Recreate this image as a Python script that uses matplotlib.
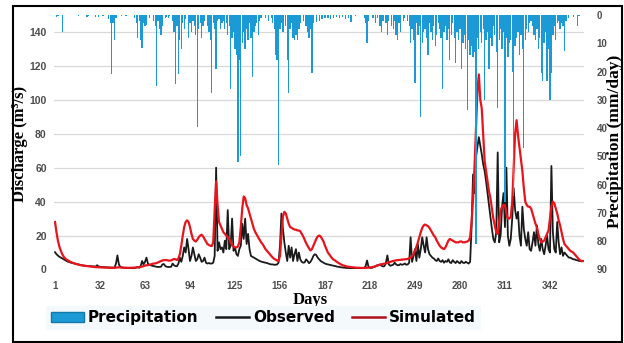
import matplotlib.pyplot as plt
import numpy as np
from matplotlib.lines import Line2D
from matplotlib.patches import Patch, Rectangle

days = np.arange(1, 366)

# Daily discharge (m3/s), observed at the gauge
observed = [
    10.2, 9, 8.2, 7.5, 7, 6.5, 6, 5.5, 5, 4.6,
    4.3, 4, 3.8, 3.6, 3.4, 3.2, 3, 2.8, 2.6, 2.4,
    2.3, 2.2, 2.1, 2.0, 2.0, 1.9, 1.8, 1.8, 1.7, 2.5,
    1.8, 1.6, 1.5, 1.4, 1.4, 1.3, 1.3, 1.2, 1.2, 1.1,
    1.1, 1.0, 3.5, 8.3, 3, 1.5, 1.2, 1.1, 1.0, 1.0,
    0.9, 0.9, 0.8, 0.8, 0.8, 0.9, 1.2, 1.5, 1.0, 2.0,
    5, 3, 4.5, 7, 3.5, 2.8, 2.5, 2.2, 2.0, 1.8,
    1.6, 1.5, 1.5, 1.6, 3, 3.2, 2, 1.6, 1.5, 1.5,
    1.6, 3.5, 2.5, 2.0, 1.9, 3.5, 7, 4.5, 8, 13,
    10, 18, 12, 5, 8, 13, 9, 5, 6, 9,
    7, 4.5, 5, 7, 4, 3.5, 3.8, 3.5, 3.5, 4,
    8, 60, 11, 16, 12, 13, 10, 17, 12, 35,
    12, 14, 30, 11, 13, 9, 8, 12, 14, 27,
    18, 30, 15, 21, 12, 8, 7.5, 7, 6.5, 6,
    5.5, 5, 4.7, 4.4, 4.2, 4, 3.8, 3.5, 3.2, 3,
    3, 2.8, 2.8, 3, 4, 14, 33, 24, 16, 10,
    5, 14, 7, 13, 5, 9, 12, 5, 10, 6,
    4.5, 4, 4.2, 6, 5, 3.7, 4.5, 6, 8, 9,
    8.5, 7, 6, 5, 4.5, 4, 3.5, 3.2, 3, 2.8,
    2.6, 2.4, 2.2, 2, 1.8, 1.6, 1.5, 1.3, 1.2, 1.1,
    1.0, 0.9, 0.9, 0.8, 0.8, 0.7, 0.7, 0.6, 0.6, 0.5,
    0.5, 0.6, 0.7, 0.8, 2, 5.3, 1.5, 1.0, 0.9, 1.2,
    1.5, 2, 2.5, 2.5, 3, 2.2, 1.8, 2, 4, 8.3,
    3, 2.2, 2.5, 2.8, 4, 3, 2.5, 2.6, 3.2, 2.8,
    3, 3.5, 2.8, 3, 4, 19, 4.5, 8, 12, 5,
    15, 7, 12, 19, 14, 10, 19, 12, 9, 8,
    7, 6.5, 5.5, 5, 6.5, 5, 4.5, 5.5, 4, 5,
    4.5, 6, 4.2, 3.8, 5.5, 4.5, 3.8, 5, 4.2, 3.6,
    5, 4, 3.8, 4.5, 4, 3.5, 4.5, 25, 56, 45,
    66, 72, 78, 73, 68, 62, 58, 52, 45, 38,
    31, 24, 18, 16, 22, 69, 16, 20, 37, 45,
    25, 60, 20, 14, 18, 30, 48, 35, 30, 34,
    20, 14, 37, 24, 18, 14, 22, 12, 11, 16,
    22, 14, 26, 15, 11, 18, 12, 9, 14, 20,
    12, 10, 61, 22, 12, 10, 28, 16, 9, 13,
    8, 10, 9, 8, 7, 7, 6.5, 6, 6, 5.5,
    5.5, 5, 5, 4.8, 5,
]

# Daily discharge (m3/s), model output
simulated = [
    28, 22, 17, 13.5, 11, 9, 7.5, 6.5, 5.8, 5.3,
    4.8, 4.4, 4.0, 3.7, 3.4, 3.1, 2.9, 2.7, 2.5, 2.4,
    2.2, 2.1, 2.0, 1.9, 1.8, 1.7, 1.6, 1.5, 1.4, 1.4,
    1.3, 1.3, 1.2, 1.2, 1.1, 1.1, 1.1, 1.0, 1.0, 1.0,
    1.0, 1.0, 1.1, 1.2, 1.3, 1.2, 1.1, 1.1, 1.0, 1.0,
    1.0, 1.0, 1.0, 1.0, 1.1, 1.1, 1.2, 1.3, 1.4, 1.5,
    1.7, 2.0, 2.3, 2.5, 2.6, 2.7, 3.0, 3.3, 3.5, 3.6,
    3.8, 4.2, 4.6, 5.0, 5.3, 5.5, 5.6, 5.5, 5.3, 5.2,
    5.4, 5.8, 6.2, 6.0, 5.6, 6.5, 9, 14, 20, 25,
    28, 29, 28, 25, 21, 18, 17, 16.5, 17.5, 19,
    20, 20.5, 19.5, 18, 16.5, 15, 14.5, 14, 13.8, 16,
    35, 52, 38, 28, 26, 24, 22, 21, 20, 19,
    18, 16, 14.5, 13.5, 13, 13, 13.5, 16, 25, 36,
    43, 42, 38, 36, 33, 30, 27, 24, 22, 20.5,
    19, 17.5, 16, 15, 13.5, 12, 11, 10, 9, 8,
    7, 6.3, 5.8, 5.3, 5, 8, 20, 31, 34, 33,
    30, 27, 25, 24.5, 24, 23.5, 23.5, 23, 23, 22.5,
    21, 19.5, 17.5, 15.5, 14, 12.5, 11.2, 12, 14, 16,
    18, 19.5, 20, 19.5, 18, 16.5, 14, 12, 10, 8.8,
    7.5, 6.5, 5.8, 5.3, 4.6, 4, 3.5, 3, 2.6, 2.3,
    2, 1.8, 1.6, 1.5, 1.4, 1.3, 1.2, 1.1, 1.0, 1.0,
    1.0, 0.9, 0.9, 0.9, 1.0, 1.0, 1.1, 1.2, 1.3, 1.5,
    1.7, 2.0, 2.3, 2.6, 2.9, 3.1, 3.3, 3.5, 3.6, 3.8,
    4.2, 4.5, 4.8, 5.0, 5.2, 5.4, 5.5, 5.6, 5.7, 5.8,
    5.9, 6.0, 6.1, 6.3, 6.6, 7.0, 8, 9, 11, 13.5,
    16, 19, 22, 24.5, 26, 26.5, 26, 25.5, 24.5, 23,
    21.5, 20, 19, 17, 15.5, 14, 13, 12.5, 12, 13,
    15, 17, 18, 17.5, 17, 16.5, 16, 16, 16, 16.5,
    16.5, 16, 16, 16.2, 16.5, 17, 19, 28, 41, 60,
    82, 105, 115, 100, 95, 80, 64, 58, 52, 46,
    42, 36, 30, 26, 22, 21, 28, 35, 37, 38,
    38, 33, 30, 30, 31, 40, 60, 80, 88, 79,
    72, 65, 58, 48, 40, 38, 37, 37, 36, 33,
    30, 27, 25, 21, 18, 16, 16.5, 17, 19, 21,
    23, 30, 37, 40, 39, 36, 33, 29, 26, 22,
    18, 15, 14, 13, 12, 11, 10.5, 10, 9, 8,
    7, 6, 5.3, 5, 5,
]

# Rain days and daily depth (mm/day)
rain_day = [
    2, 3, 6, 17, 23, 24, 29, 31, 34, 38, 39, 40, 41, 42, 43, 47, 50, 56, 57, 58,
    59, 60, 61, 62, 63, 64, 66, 69, 70, 71, 72, 73, 74, 75, 77, 78, 79, 80, 82, 83,
    84, 85, 86, 87, 88, 89, 90, 91, 93, 94, 95, 96, 97, 98, 99, 100, 101, 102, 103, 104,
    106, 107, 108, 109, 110, 111, 112, 113, 114, 115, 116, 117, 118, 119, 120, 121, 122, 123, 124, 125,
    126, 127, 128, 129, 130, 131, 132, 133, 134, 135, 136, 137, 138, 139, 140, 141, 142, 143, 146, 148,
    150, 151, 152, 153, 154, 155, 156, 157, 158, 160, 161, 162, 163, 164, 165, 166, 167, 168, 169, 170,
    172, 174, 175, 176, 177, 178, 179, 181, 183, 185, 187, 189, 191, 193, 195, 197, 199, 201, 203, 205,
    208, 214, 215, 216, 217, 220, 222, 223, 225, 226, 227, 229, 230, 231, 233, 234, 235, 236, 237, 238,
    239, 241, 242, 244, 245, 246, 247, 248, 249, 250, 251, 252, 253, 254, 255, 256, 257, 258, 259, 260,
    261, 262, 263, 264, 265, 266, 267, 268, 269, 270, 271, 272, 273, 274, 275, 276, 277, 278, 279, 280,
    281, 282, 283, 284, 285, 286, 287, 288, 289, 290, 291, 292, 293, 294, 295, 296, 297, 298, 299, 300,
    301, 302, 303, 304, 305, 306, 307, 308, 309, 310, 311, 312, 313, 314, 315, 316, 317, 318, 319, 320,
    321, 322, 323, 324, 325, 326, 327, 328, 329, 330, 331, 332, 333, 334, 335, 336, 337, 338, 339, 340,
    341, 342, 343, 344, 345, 346, 347, 348, 349, 350, 351, 352, 353, 355, 358, 361, 362,
]
rain_mm = [
    0.8, 0.5, 6, 0.5, 0.8, 0.5, 0.7, 0.6, 0.5, 1.5, 3, 21, 3, 9, 1, 0.5, 0.5, 1, 3, 8,
    2, 9, 11.5, 3, 4, 3.5, 1, 2, 4, 25, 2, 5, 7, 4, 1, 0.8, 1, 0.5, 2, 6,
    24.5, 4, 21, 9, 12, 3, 5, 1.5, 8, 3, 6, 2, 4, 7, 39.5, 5, 3, 8, 4, 2,
    4, 6, 9, 27.5, 3, 5, 19, 2, 1.5, 5, 3, 2, 5, 3, 7, 4, 26, 8, 6, 12,
    14, 52, 16, 50, 10, 6, 12, 5, 9, 3, 8, 22, 6, 4, 3, 7, 2, 1, 1, 2,
    1, 3, 5, 14, 16, 53, 5, 3, 6, 4, 16, 27.5, 5, 3, 8, 9, 7, 9, 5, 3,
    2, 4, 6, 8, 5, 20.5, 3, 2.5, 2, 1.5, 1, 1, 1.5, 1, 0.8, 1, 0.8, 1.5, 1, 2.5,
    0.5, 1, 3, 10, 2, 1, 3, 1, 4, 6, 2, 3, 7, 2, 4, 5, 2, 7, 9, 3,
    6, 2, 1, 2, 4, 10, 5, 9, 24, 3, 7, 4, 36, 10, 6, 5, 8, 14, 3, 6,
    9, 4, 11, 7, 3, 5, 8, 26, 6, 4, 9, 5, 16, 7, 3, 8, 17, 6, 9, 5,
    19, 10, 7, 12, 33.5, 9, 14, 11, 15, 13, 81, 8, 12, 6, 10, 5, 30, 9, 6, 19,
    8, 11, 4, 7, 13, 33, 9, 5, 12, 6, 66, 8, 15, 10, 9, 20, 64, 11, 8, 6,
    14, 7, 12, 47, 9, 5, 6, 3, 2, 4, 7, 9, 5, 12, 8, 20.5, 23.5, 10, 6, 23.5,
    12, 30, 20.5, 7, 4, 8.8, 3, 2, 5, 3, 4, 12.9, 2, 1, 0.8, 4, 0.5,
]

xtick_days = [1, 32, 63, 94, 125, 156, 187, 218, 249, 280, 311, 342]
q_ticks = list(range(0, 160, 20))
p_ticks = list(range(0, 100, 10))

rain_blue = '#1b9ad6'
sim_red = '#e8141c'
tick_grey = '#4d4d4d'

fig = plt.figure(figsize=(6.24, 3.43), dpi=100)
ax = fig.add_axes([0.087, 0.2143, 0.849, 0.742])

ax.plot(days, observed, color='#1a1a1a', lw=1.3)
ax.plot(days, simulated, color=sim_red, lw=1.6)

ax.set_xlim(0.5, 365.5)
ax.set_ylim(0, 150)
ax.set_xticks(xtick_days)
ax.set_yticks(q_ticks)
ax.grid(axis='y', color='#d9d9d9', lw=0.9)
ax.set_axisbelow(True)
for s in ax.spines.values():
    s.set_visible(False)
ax.tick_params(axis='y', length=0, pad=5.5, labelsize=7.5, labelcolor=tick_grey)
ax.tick_params(axis='x', length=0, pad=8.5, labelsize=7, labelcolor=tick_grey)
plt.setp(ax.get_xticklabels() + ax.get_yticklabels(), family='Liberation Sans', weight='bold')

# rainfall hangs from the top on an inverted secondary axis
ax2 = ax.twinx()
ax2.bar(rain_day, rain_mm, width=0.9, color=rain_blue, lw=0)
ax2.set_ylim(90, 0)
ax2.set_yticks(p_ticks)
for s in ax2.spines.values():
    s.set_visible(False)
ax2.tick_params(axis='y', length=0, pad=9, labelsize=7, labelcolor=tick_grey)
plt.setp(ax2.get_yticklabels(), family='Liberation Sans', weight='bold')

serif = dict(family='Liberation Serif', weight='bold')
fig.text(20.5 / 624, 1 - 143.5 / 343, 'Discharge (m³/s)', rotation=90, ha='center', va='center',
         size=12, **serif)
fig.text(615 / 624, 1 - 141.5 / 343, 'Precipitation (mm/day)', rotation=90, ha='center',
         va='center', size=12.5, **serif)
fig.text(310 / 624, 1 - 300 / 343, 'Days', ha='center', va='center', size=12, **serif)

handles = [
    Patch(facecolor=rain_blue, edgecolor='#1577a8'),
    Line2D([], [], color='#1a1a1a', lw=1.8),
    Line2D([], [], color='#b0101a', lw=1.8),
]
fig.legend(handles, ['Precipitation', 'Observed', 'Simulated'], ncol=3, loc='center',
           bbox_to_anchor=(0.422, 0.073), prop=dict(family='DejaVu Sans', weight='bold', size=11),
           frameon=True, facecolor='#f4f9fc', edgecolor='none', fancybox=False, framealpha=1,
           handlelength=2.2, handletextpad=0.25, columnspacing=1.1, borderpad=0.3)

# outer frame round the whole figure
fig.patches.append(Rectangle((13 / 624, 1 - 341.5 / 343), 609 / 624, 336 / 343,
                             transform=fig.transFigure, fill=False, lw=1.5, ec='black'))

fig.savefig('out.png', dpi=100)
